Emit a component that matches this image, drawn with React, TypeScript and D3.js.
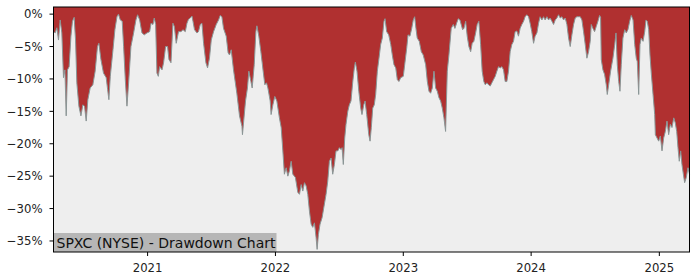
import React from "react";
import * as d3 from "d3";

// Decimal-year timestamps
const dates: number[] = [
  2020.266, 2020.279, 2020.292, 2020.305, 2020.318, 2020.331, 2020.344, 2020.355, 2020.365, 2020.375,
  2020.388, 2020.402, 2020.414, 2020.427, 2020.438, 2020.448, 2020.464, 2020.48, 2020.495, 2020.508,
  2020.521, 2020.534, 2020.552, 2020.573, 2020.591, 2020.609, 2020.62, 2020.636, 2020.656, 2020.677,
  2020.688, 2020.698, 2020.709, 2020.73, 2020.745, 2020.761, 2020.773, 2020.787, 2020.802, 2020.813,
  2020.826, 2020.839, 2020.852, 2020.87, 2020.891, 2020.909, 2020.922, 2020.938, 2020.956, 2020.974,
  2020.995, 2021.016, 2021.027, 2021.042, 2021.052, 2021.063, 2021.073, 2021.084, 2021.094, 2021.113,
  2021.125, 2021.141, 2021.156, 2021.167, 2021.183, 2021.198, 2021.209, 2021.224, 2021.242, 2021.261,
  2021.277, 2021.295, 2021.308, 2021.32, 2021.334, 2021.347, 2021.355, 2021.367, 2021.386, 2021.398,
  2021.412, 2021.425, 2021.438, 2021.456, 2021.469, 2021.484, 2021.498, 2021.516, 2021.537, 2021.555,
  2021.568, 2021.581, 2021.594, 2021.615, 2021.63, 2021.641, 2021.654, 2021.672, 2021.698, 2021.719,
  2021.738, 2021.742, 2021.766, 2021.781, 2021.792, 2021.808, 2021.818, 2021.834, 2021.847, 2021.855,
  2021.87, 2021.886, 2021.904, 2021.917, 2021.93, 2021.941, 2021.959, 2021.966, 2021.98, 2021.995,
  2022.011, 2022.031, 2022.045, 2022.058, 2022.07, 2022.084, 2022.097, 2022.109, 2022.123, 2022.136,
  2022.156, 2022.175, 2022.188, 2022.201, 2022.214, 2022.227, 2022.24, 2022.253, 2022.266, 2022.279,
  2022.292, 2022.305, 2022.318, 2022.326, 2022.336, 2022.349, 2022.365, 2022.383, 2022.396, 2022.409,
  2022.422, 2022.435, 2022.448, 2022.461, 2022.474, 2022.488, 2022.5, 2022.513, 2022.521, 2022.531,
  2022.542, 2022.552, 2022.566, 2022.578, 2022.591, 2022.605, 2022.617, 2022.625, 2022.638, 2022.652,
  2022.667, 2022.677, 2022.691, 2022.701, 2022.714, 2022.73, 2022.74, 2022.75, 2022.761, 2022.773,
  2022.784, 2022.797, 2022.81, 2022.823, 2022.836, 2022.849, 2022.857, 2022.87, 2022.886, 2022.902,
  2022.914, 2022.927, 2022.941, 2022.953, 2022.966, 2022.98, 2023.0, 2023.011, 2023.027, 2023.037,
  2023.052, 2023.066, 2023.078, 2023.089, 2023.099, 2023.109, 2023.125, 2023.141, 2023.156, 2023.175,
  2023.188, 2023.201, 2023.214, 2023.227, 2023.24, 2023.253, 2023.266, 2023.279, 2023.292, 2023.305,
  2023.318, 2023.331, 2023.344, 2023.357, 2023.375, 2023.391, 2023.404, 2023.417, 2023.43, 2023.443,
  2023.453, 2023.464, 2023.474, 2023.488, 2023.5, 2023.513, 2023.527, 2023.539, 2023.552, 2023.566,
  2023.578, 2023.591, 2023.605, 2023.617, 2023.63, 2023.641, 2023.654, 2023.667, 2023.68, 2023.693,
  2023.706, 2023.719, 2023.732, 2023.745, 2023.758, 2023.771, 2023.784, 2023.797, 2023.81, 2023.823,
  2023.836, 2023.849, 2023.862, 2023.875, 2023.888, 2023.901, 2023.914, 2023.927, 2023.941, 2023.953,
  2023.966, 2023.98, 2023.992, 2024.005, 2024.019, 2024.031, 2024.045, 2024.058, 2024.07, 2024.084,
  2024.097, 2024.109, 2024.123, 2024.136, 2024.148, 2024.162, 2024.175, 2024.188, 2024.201, 2024.214,
  2024.227, 2024.24, 2024.253, 2024.266, 2024.279, 2024.292, 2024.305, 2024.318, 2024.331, 2024.344,
  2024.357, 2024.37, 2024.383, 2024.396, 2024.409, 2024.422, 2024.435, 2024.448, 2024.461, 2024.469,
  2024.482, 2024.495, 2024.508, 2024.521, 2024.534, 2024.542, 2024.547, 2024.56, 2024.573, 2024.586,
  2024.594, 2024.605, 2024.62, 2024.638, 2024.652, 2024.662, 2024.672, 2024.683, 2024.693, 2024.703,
  2024.716, 2024.73, 2024.742, 2024.755, 2024.769, 2024.781, 2024.795, 2024.808, 2024.82, 2024.828,
  2024.839, 2024.849, 2024.859, 2024.873, 2024.886, 2024.896, 2024.906, 2024.917, 2024.927, 2024.938,
  2024.951, 2024.964, 2024.969, 2024.982, 2024.995, 2025.008, 2025.021, 2025.034, 2025.047, 2025.06,
  2025.073, 2025.086, 2025.099, 2025.113, 2025.125, 2025.136, 2025.146, 2025.156, 2025.167, 2025.177,
  2025.188, 2025.198, 2025.211, 2025.224, 2025.236,
];

// Drawdown in percent
const drawdown: number[] = [
  -2.7, -2.9, -2.1, -4.0, -0.9, -2.9, -9.8, -8.6, -15.7, -8.6,
  -8.1, -3.4, -1.1, -0.5, -4.0, -10.6, -14.2, -15.7, -14.0, -14.2,
  -16.5, -13.2, -11.4, -10.9, -8.8, -5.0, -4.5, -7.0, -9.1, -9.8,
  -11.6, -13.2, -9.6, -5.5, -2.4, -0.4, 0, -0.9, -1.1, -5.0,
  -10.1, -14.2, -10.6, -5.0, -2.9, -0.9, -0.1, -0.9, -2.9, -3.2,
  -2.9, -2.7, -1.4, -1.6, -0.6, -1.6, -9.1, -9.6, -8.1, -8.6,
  -7.5, -5.0, -5.0, -7.0, -7.5, -1.4, -1.9, -4.5, -2.7, -2.7,
  -2.4, -2.7, -1.4, -0.8, -0.6, -0.3, -1.1, -2.4, -2.9, -2.7,
  -1.6, -1.4, -4.5, -7.5, -8.3, -6.8, -4.0, -2.7, -1.6, -0.9,
  -0.2, -0.4, -2.2, -3.4, -6.0, -6.3, -5.5, -8.6, -12.2, -15.7,
  -17.3, -18.6, -13.4, -11.4, -8.8, -10.4, -11.4, -7.8, -2.7, -1.8,
  -3.4, -5.8, -8.8, -10.9, -10.6, -11.4, -13.4, -15.5, -14.0, -12.7,
  -13.4, -16.0, -17.5, -21.1, -24.7, -23.7, -25.0, -24.2, -22.7, -24.7,
  -25.2, -27.5, -27.8, -26.3, -27.3, -26.0, -26.5, -27.8, -30.4, -32.4,
  -32.9, -32.2, -34.5, -36.3, -34.0, -32.4, -31.4, -29.3, -27.8, -25.8,
  -22.7, -22.2, -24.7, -23.2, -21.1, -21.1, -20.6, -20.9, -20.6, -23.2,
  -19.1, -17.0, -15.0, -14.0, -13.4, -10.4, -8.3, -7.4, -8.8, -11.9,
  -14.5, -15.5, -14.0, -13.4, -15.5, -18.6, -19.6, -17.5, -14.5, -14.0,
  -12.4, -8.8, -6.8, -4.7, -3.7, -1.1, -0.7, -2.7, -3.2, -4.7,
  -6.3, -7.8, -8.3, -10.1, -10.4, -9.8, -9.6, -7.8, -5.2, -3.2,
  -3.4, -2.2, -0.9, -0.4, -2.2, -3.7, -4.2, -5.8, -6.3, -7.8,
  -10.4, -11.9, -12.2, -11.4, -8.8, -11.4, -11.9, -12.9, -13.4, -14.5,
  -16.0, -18.1, -8.8, -6.3, -2.2, -1.6, -2.2, -1.4, -0.7, -0.9,
  -1.6, -2.4, -2.2, -1.1, -3.4, -5.0, -5.8, -4.5, -4.2, -2.9,
  -1.6, -1.1, -4.7, -8.8, -10.4, -10.9, -10.6, -10.9, -11.1, -10.6,
  -10.1, -9.6, -8.8, -8.1, -8.3, -8.1, -8.6, -10.4, -10.4, -8.8,
  -5.8, -4.7, -4.2, -2.7, -2.6, -3.4, -2.2, -1.6, -1.1, -0.4,
  -0.1, -0.4, -1.4, -2.7, -4.5, -3.4, -2.9, -1.4, -0.4, -0.9,
  -0.4, -0.9, -0.4, -0.9, -0.6, -1.1, -1.6, -0.9, -0.6, -0.1,
  -0.6, -0.4, -0.9, -0.6, -1.6, -3.7, -5.0, -3.2, -1.6, -0.6,
  -0.4, -0.4, -0.4, -0.9, -2.7, -4.7, -6.8, -5.8, -4.2, -1.6,
  -2.2, -2.7, -1.9, -1.1, -0.2, -0.5, -7.0, -8.6, -9.3, -10.9,
  -12.4, -10.9, -8.8, -6.8, -4.7, -2.9, -7.8, -10.4, -11.9, -7.8,
  -3.7, -2.4, -2.9, -2.4, -1.1, -0.2, -0.9, -4.7, -6.8, -7.3,
  -12.4, -4.7, -3.7, -4.2, -2.7, -0.9, -1.1, -2.4, -6.3, -9.3,
  -12.4, -15.5, -18.6, -19.1, -19.6, -18.8, -21.1, -19.1, -18.1, -16.5,
  -18.6, -17.0, -17.5, -16.0, -16.8, -18.1, -20.6, -22.7, -21.1, -23.2,
  -24.7, -26.0, -25.2, -23.7, -24.7,
];

const yTicks: number[] = [0, -5, -10, -15, -20, -25, -30, -35];
const xTickYears: number[] = [2021, 2022, 2023, 2024, 2025];
const title = "SPXC (NYSE) - Drawdown Chart";

function yearToDate(t: number): Date {
  const y = Math.floor(t);
  const s = Date.UTC(y, 0, 1);
  const e = Date.UTC(y + 1, 0, 1);
  return new Date(s + (t - y) * (e - s));
}

export default function App() {
  const W = 700, H = 280;
  const left = 53.5, right = 689.5, top = 7, bottom = 252;
  const pts = dates.map((t, i) => ({ d: yearToDate(t), v: drawdown[i] }));
  const x = d3.scaleUtc().domain(d3.extent(pts, (p) => p.d) as [Date, Date]).range([left, right]);
  const y = d3.scaleLinear().domain([-36.7, 1.1]).range([bottom, top]);
  const area = d3.area<{ d: Date; v: number }>().x((p) => x(p.d)).y0(top).y1((p) => y(p.v));
  const line = d3.line<{ d: Date; v: number }>().x((p) => x(p.d)).y((p) => y(p.v));
  const font = "DejaVu Sans, sans-serif";
  return (
    <svg width={W} height={H} style={{ position: "absolute", left: 0, top: 0, background: "#fff" }}>
      <rect x={left} y={top} width={right - left} height={bottom - top} fill="#eeeeee" />
      <path d={area(pts) || ""} fill="#b03030" />
      <path d={line(pts) || ""} fill="none" stroke="#8a9696" strokeWidth={1} />
      <rect x={left} y={233} width={223} height={bottom - 233} fill="#b6b6b6" />
      <text x={56.5} y={247.5} fontFamily={font} fontSize={14} fill="#111">{title}</text>
      <rect x={left} y={top} width={right - left} height={bottom - top} fill="none" stroke="#000" strokeWidth={1} />
      {yTicks.map((t) => (
        <g key={t}>
          <line x1={left - 4} x2={left} y1={y(t)} y2={y(t)} stroke="#000" />
          <text x={left - 11} y={y(t)} dy="0.36em" textAnchor="end" fontFamily={font} fontSize={11.7} fill="#222">
            {(t < 0 ? "\u2212" + Math.abs(t) : String(t)) + "%"}
          </text>
        </g>
      ))}
      {xTickYears.map((yr) => {
        const px = x(new Date(Date.UTC(yr, 0, 1)));
        return (
          <g key={yr}>
            <line x1={px} x2={px} y1={bottom} y2={bottom + 4} stroke="#000" />
            <text x={px} y={271.5} textAnchor="middle" fontFamily={font} fontSize={11.7} fill="#222">{yr}</text>
          </g>
        );
      })}
    </svg>
  );
}
